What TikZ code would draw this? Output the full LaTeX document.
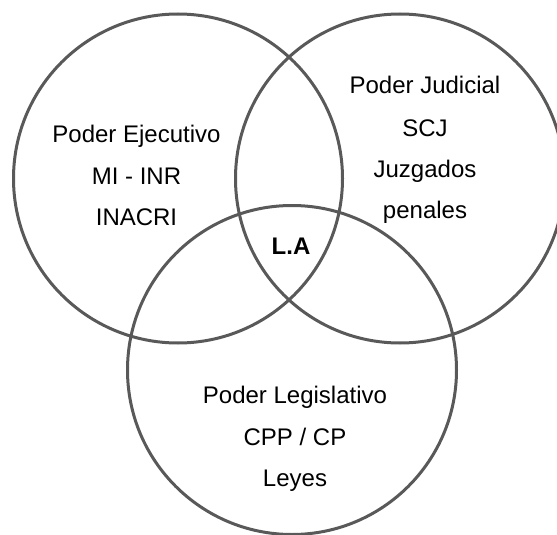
\documentclass[tikz,border=0pt]{standalone}
\usepackage{fontspec}
\setmainfont{Liberation Sans}
\usepackage{xcolor}
\definecolor{rgrey}{RGB}{89,89,89}
\tikzset{
  ring/.style={draw=rgrey, line width=3pt},
  lbl/.style={anchor=base, inner sep=0pt, font=\fontsize{24}{28}\selectfont},
}

\begin{document}
\begin{tikzpicture}[x=1pt, y=-1pt]
\useasboundingbox (0,0) rectangle (557,535);
% circles
\draw[ring] (178,178.5) circle (164.5);
\draw[ring] (400,178.5) circle (164.5);
\draw[ring] (292,370) circle (164.5);
% left: ejecutivo
\node[lbl] (ej1) at (136.5,142.5) {Poder Ejecutivo};
\node[lbl] (ej2) at (136.5,184) {MI - INR};
\node[lbl] (ej3) at (136.5,225) {INACRI};
% right: judicial
\node[lbl] (ju1) at (425,93.5) {Poder Judicial};
\node[lbl] (ju2) at (425,136) {SCJ};
\node[lbl] (ju3) at (425,177) {Juzgados};
\node[lbl] (ju4) at (425,218) {penales};
% bottom: legislativo
\node[lbl] (le1) at (295,403) {Poder Legislativo};
\node[lbl] (le2) at (295,445) {CPP / CP};
\node[lbl] (le3) at (295,486) {Leyes};
% centre
\node[lbl, font=\fontsize{24}{28}\selectfont\bfseries] (la) at (291,254) {L.A};
\end{tikzpicture}
\end{document}
